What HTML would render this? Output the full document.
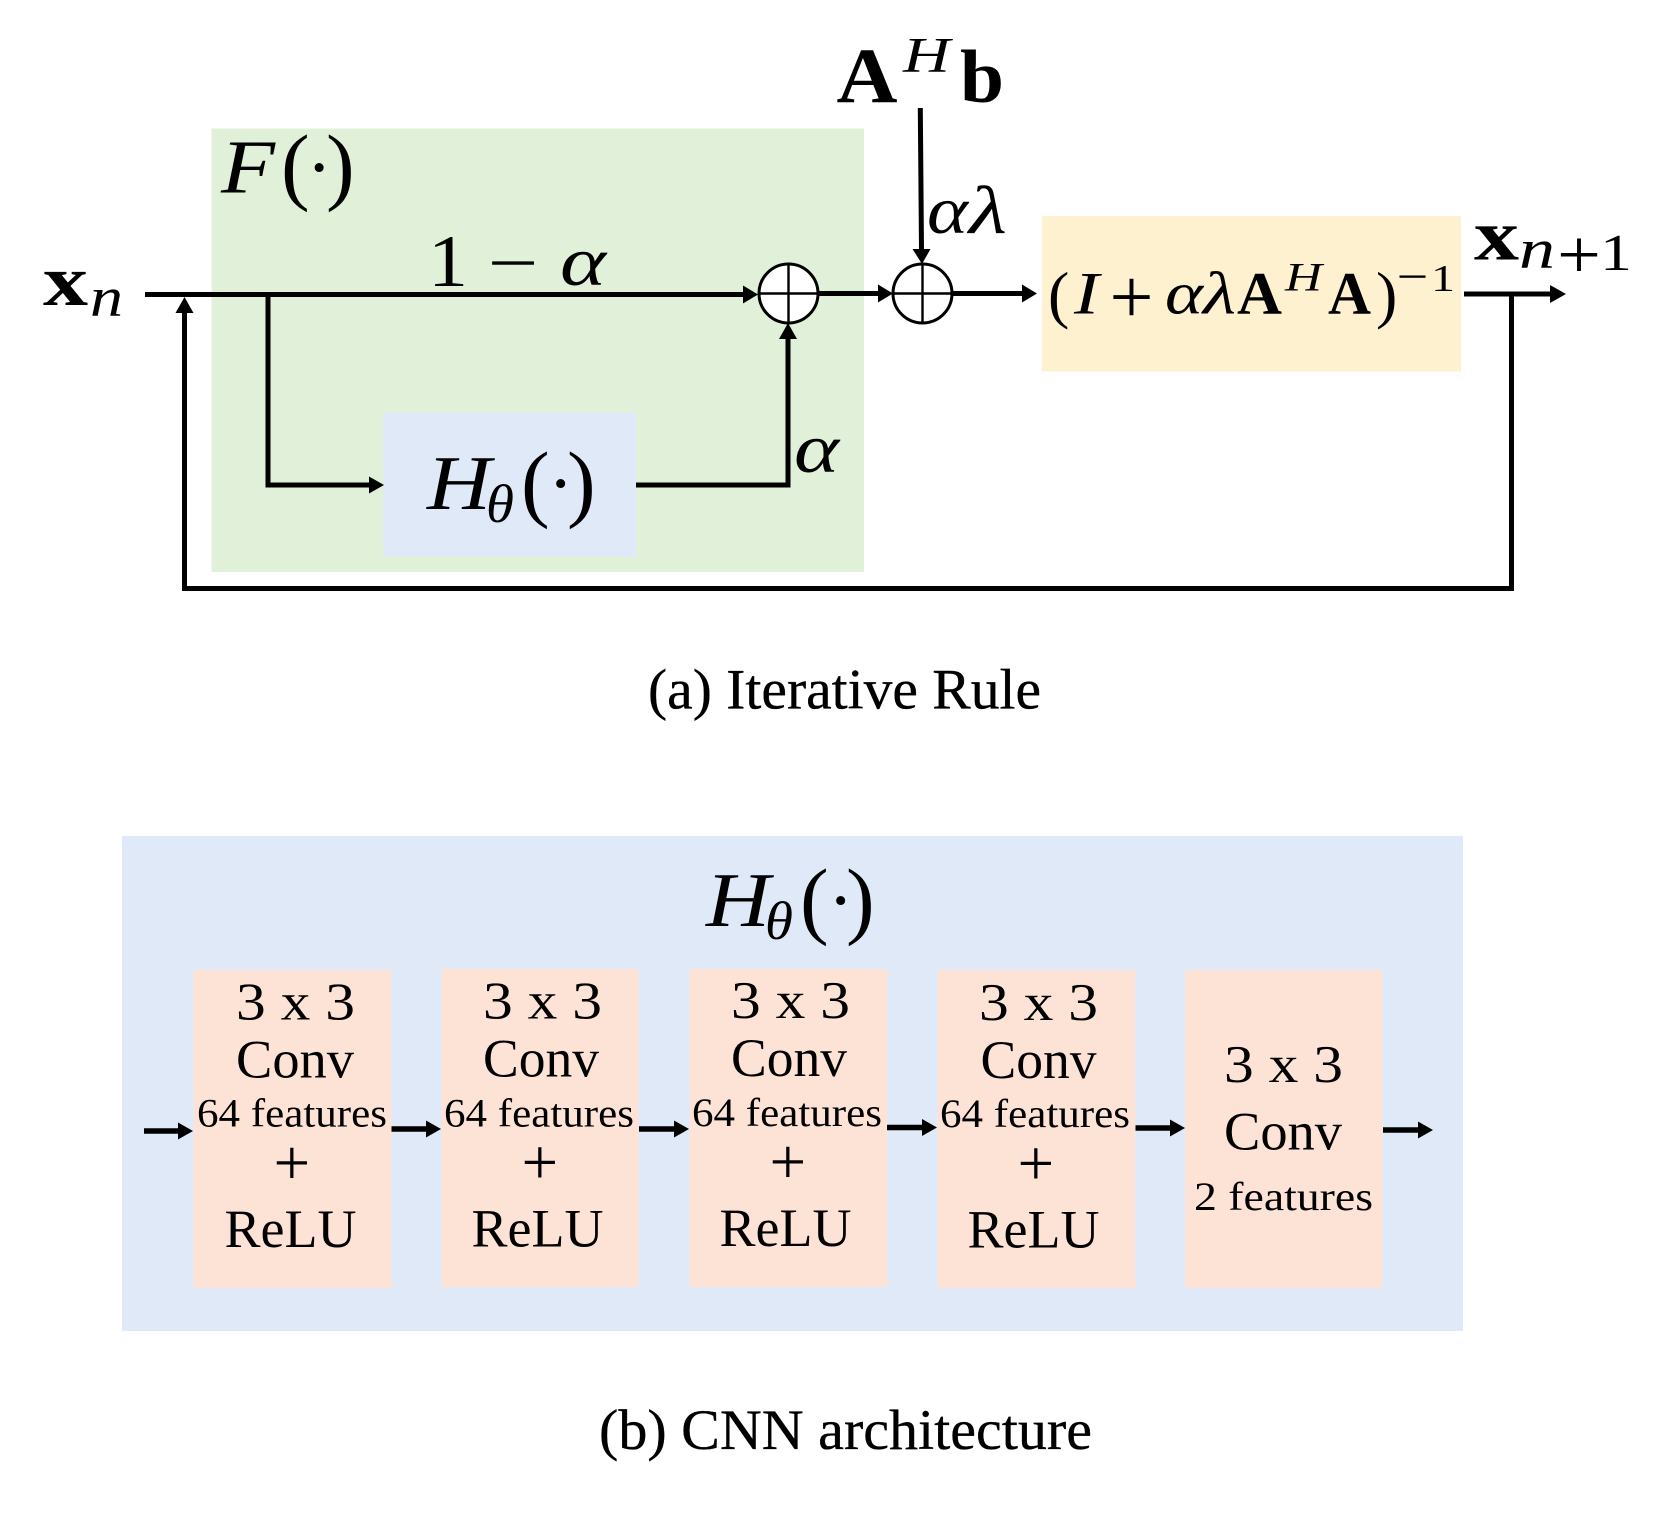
<!DOCTYPE html>
<html>
<head>
<meta charset="utf-8">
<style>
html,body{margin:0;padding:0;background:#fff}
svg{display:block}
text{font-family:"Liberation Serif",serif;fill:#000}
.i{font-style:italic}
.b{font-weight:bold}
.cap{stroke:#000;stroke-width:.35px}
</style>
</head>
<body>
<svg width="1678" height="1522" viewBox="0 0 1678 1522" xmlns="http://www.w3.org/2000/svg">
<rect width="1678" height="1522" fill="#fff"/>

<!-- panel (a) fills -->
<rect x="211.5" y="128.5" width="652.5" height="443.5" fill="#e1f0d9"/>
<rect x="383.5" y="412.5" width="252.5" height="144" fill="#dfe9f8"/>
<rect x="1042" y="216" width="419" height="155.5" fill="#fef1d0"/>

<!-- connectors -->
<g fill="none" stroke="#000" stroke-width="5">
  <path d="M145 294.5H745"/>
  <path d="M268 294V485H370"/>
  <path d="M636 485H788V336"/>
  <path d="M184.5 310V588.5H1511.5V294"/>
  <path d="M1464 294H1552"/>
  <path d="M818 293.5H880"/>
  <path d="M953 293.5H1024"/>
  <path d="M920.3 108L921.5 250"/>
</g>
<g fill="#000">
  <polygon points="743,285.5 758,294.5 743,303.5"/>
  <polygon points="369,476.5 384,485 369,493.5"/>
  <polygon points="779,339 788,323 797,339"/>
  <polygon points="175.5,313 184.5,297 193.5,313"/>
  <polygon points="1550,285 1566,294 1550,303"/>
  <polygon points="878,284.5 893,293.5 878,302.5"/>
  <polygon points="1022,284.5 1037,293.5 1022,302.5"/>
  <polygon points="912.5,249 930.5,249 922,264"/>
</g>

<!-- summing junctions -->
<g fill="#fff" stroke="#000" stroke-width="3">
  <circle cx="788.5" cy="293.5" r="29.5"/>
  <circle cx="922.5" cy="293.5" r="29.5"/>
</g>
<g stroke="#000" stroke-width="2.4">
  <path d="M759 293.5H818M788.5 264V323"/>
  <path d="M893 293.5H952M922.5 264V323"/>
</g>

<!-- panel (a) labels -->
<text class="b" x="43" y="305" font-size="72" textLength="45" lengthAdjust="spacingAndGlyphs">x</text>
<text class="i" x="90" y="316" font-size="56" textLength="33" lengthAdjust="spacingAndGlyphs">n</text>

<text class="i" x="221" y="192.5" font-size="76" textLength="54" lengthAdjust="spacingAndGlyphs">F</text>
<text x="281" y="194" font-size="86">(</text>
<text x="306.5" y="193" font-size="76">·</text>
<text x="326" y="194" font-size="86">)</text>

<text x="428" y="286" font-size="74" textLength="40" lengthAdjust="spacingAndGlyphs">1</text>
<text class="cap" x="488" y="283" font-size="60" textLength="50" lengthAdjust="spacingAndGlyphs">−</text>
<text class="i" x="560" y="285" font-size="70" textLength="46" lengthAdjust="spacingAndGlyphs">α</text>

<text class="i" x="427" y="509" font-size="77" textLength="64" lengthAdjust="spacingAndGlyphs">H</text>
<text class="i" x="486" y="522" font-size="54" textLength="28" lengthAdjust="spacingAndGlyphs">θ</text>
<text x="521" y="511" font-size="86">(</text>
<text x="548" y="509" font-size="76">·</text>
<text x="567" y="511" font-size="86">)</text>

<text class="i" x="794" y="472" font-size="70" textLength="45" lengthAdjust="spacingAndGlyphs">α</text>

<text class="b" x="836.5" y="102" font-size="78" textLength="61" lengthAdjust="spacingAndGlyphs">A</text>
<text class="i" x="903" y="71.5" font-size="50" textLength="47" lengthAdjust="spacingAndGlyphs">H</text>
<text class="b" x="960" y="102" font-size="75" textLength="44" lengthAdjust="spacingAndGlyphs">b</text>

<text class="i" x="927" y="233" font-size="68" textLength="41" lengthAdjust="spacingAndGlyphs">α</text>
<text class="i" x="969" y="233" font-size="68" textLength="38" lengthAdjust="spacingAndGlyphs">λ</text>

<text x="1048" y="316" font-size="64">(</text>
<text class="i" x="1074" y="313.5" font-size="60" textLength="25" lengthAdjust="spacingAndGlyphs">I</text>
<text x="1109.5" y="323" font-size="78" textLength="44" lengthAdjust="spacingAndGlyphs">+</text>
<text class="i" x="1165" y="313.5" font-size="60" textLength="38" lengthAdjust="spacingAndGlyphs">α</text>
<text class="i" x="1203" y="313.5" font-size="60" textLength="33" lengthAdjust="spacingAndGlyphs">λ</text>
<text class="b" x="1237" y="313.5" font-size="60" textLength="45" lengthAdjust="spacingAndGlyphs">A</text>
<text class="i" x="1285" y="290.5" font-size="40" textLength="37" lengthAdjust="spacingAndGlyphs">H</text>
<text class="b" x="1328" y="313.5" font-size="60" textLength="43" lengthAdjust="spacingAndGlyphs">A</text>
<text x="1376" y="316" font-size="64">)</text>
<text class="cap" x="1397" y="290" font-size="40" textLength="31" lengthAdjust="spacingAndGlyphs">−</text>
<text x="1431" y="291" font-size="38" textLength="24" lengthAdjust="spacingAndGlyphs">1</text>

<text class="b" x="1474" y="259.5" font-size="72" textLength="45" lengthAdjust="spacingAndGlyphs">x</text>
<text class="i" x="1519" y="268" font-size="56" textLength="36" lengthAdjust="spacingAndGlyphs">n</text>
<text x="1557" y="278" font-size="70" textLength="44" lengthAdjust="spacingAndGlyphs">+</text>
<text x="1600" y="270" font-size="52" textLength="32" lengthAdjust="spacingAndGlyphs">1</text>

<text class="cap" x="648" y="708.5" font-size="57" textLength="393" lengthAdjust="spacingAndGlyphs">(a) Iterative Rule</text>

<!-- panel (b) -->
<rect x="122" y="836" width="1341" height="495" fill="#dfe9f8"/>
<rect x="193.5" y="970" width="198" height="318" fill="#fde3d6"/>
<rect x="441.5" y="969" width="197" height="318" fill="#fde3d6"/>
<rect x="689.5" y="969" width="198" height="318" fill="#fde3d6"/>
<rect x="937.5" y="970" width="198" height="318" fill="#fde3d6"/>
<rect x="1185" y="970" width="197.5" height="318" fill="#fde3d6"/>

<text class="i" x="706" y="926" font-size="77" textLength="64" lengthAdjust="spacingAndGlyphs">H</text>
<text class="i" x="765" y="939" font-size="54" textLength="28" lengthAdjust="spacingAndGlyphs">θ</text>
<text x="800" y="928" font-size="86">(</text>
<text x="828" y="926" font-size="76">·</text>
<text x="846" y="928" font-size="86">)</text>

<g>
  <text x="236" y="1019.5" font-size="53" textLength="119" lengthAdjust="spacingAndGlyphs">3 x 3</text>
  <text x="236" y="1077.5" font-size="54" textLength="118" lengthAdjust="spacingAndGlyphs">Conv</text>
  <text x="197" y="1126.5" font-size="40" textLength="190" lengthAdjust="spacingAndGlyphs">64 features</text>
  <text x="273.5" y="1184.5" font-size="65">+</text>
  <text x="224.5" y="1247" font-size="54" textLength="132" lengthAdjust="spacingAndGlyphs">ReLU</text>
</g>
<g transform="translate(247,-0.5)">
  <text x="236" y="1019" font-size="53" textLength="119" lengthAdjust="spacingAndGlyphs">3 x 3</text>
  <text x="236" y="1077" font-size="54" textLength="116" lengthAdjust="spacingAndGlyphs">Conv</text>
  <text x="197" y="1127" font-size="40" textLength="190" lengthAdjust="spacingAndGlyphs">64 features</text>
  <text x="274.5" y="1184.5" font-size="65">+</text>
  <text x="224.5" y="1247" font-size="54" textLength="132" lengthAdjust="spacingAndGlyphs">ReLU</text>
</g>
<g transform="translate(495,-1)">
  <text x="236" y="1019" font-size="53" textLength="119" lengthAdjust="spacingAndGlyphs">3 x 3</text>
  <text x="236" y="1077" font-size="54" textLength="116" lengthAdjust="spacingAndGlyphs">Conv</text>
  <text x="197" y="1127" font-size="40" textLength="190" lengthAdjust="spacingAndGlyphs">64 features</text>
  <text x="274.5" y="1184.5" font-size="65">+</text>
  <text x="224.5" y="1247" font-size="54" textLength="132" lengthAdjust="spacingAndGlyphs">ReLU</text>
</g>
<g transform="translate(743,0.5)">
  <text x="236" y="1019.5" font-size="53" textLength="119" lengthAdjust="spacingAndGlyphs">3 x 3</text>
  <text x="237.5" y="1077.5" font-size="54" textLength="116" lengthAdjust="spacingAndGlyphs">Conv</text>
  <text x="197" y="1126.5" font-size="40" textLength="190" lengthAdjust="spacingAndGlyphs">64 features</text>
  <text x="274.5" y="1184.5" font-size="65">+</text>
  <text x="224.5" y="1247" font-size="54" textLength="132" lengthAdjust="spacingAndGlyphs">ReLU</text>
</g>
<text x="1224" y="1082" font-size="53" textLength="119" lengthAdjust="spacingAndGlyphs">3 x 3</text>
<text x="1224" y="1149.5" font-size="54" textLength="118" lengthAdjust="spacingAndGlyphs">Conv</text>
<text x="1194" y="1210" font-size="40" textLength="179" lengthAdjust="spacingAndGlyphs">2 features</text>

<!-- panel (b) arrows -->
<g fill="none" stroke="#000" stroke-width="5.6">
  <path d="M144 1131H180"/>
  <path d="M391.5 1129H428"/>
  <path d="M639 1129H676"/>
  <path d="M887 1127.5H924"/>
  <path d="M1135.5 1128H1172"/>
  <path d="M1383 1130H1420"/>
</g>
<g fill="#000">
  <polygon points="178,1122.5 193,1131 178,1139.5"/>
  <polygon points="426,1120.5 441,1129 426,1137.5"/>
  <polygon points="674,1120.5 689,1129 674,1137.5"/>
  <polygon points="922,1119 937,1127.5 922,1136"/>
  <polygon points="1170,1119.5 1185,1128 1170,1136.5"/>
  <polygon points="1418,1121.5 1433,1130 1418,1138.5"/>
</g>

<text class="cap" x="599" y="1449" font-size="57.5" textLength="493" lengthAdjust="spacingAndGlyphs">(b) CNN architecture</text>
</svg>
</body>
</html>
